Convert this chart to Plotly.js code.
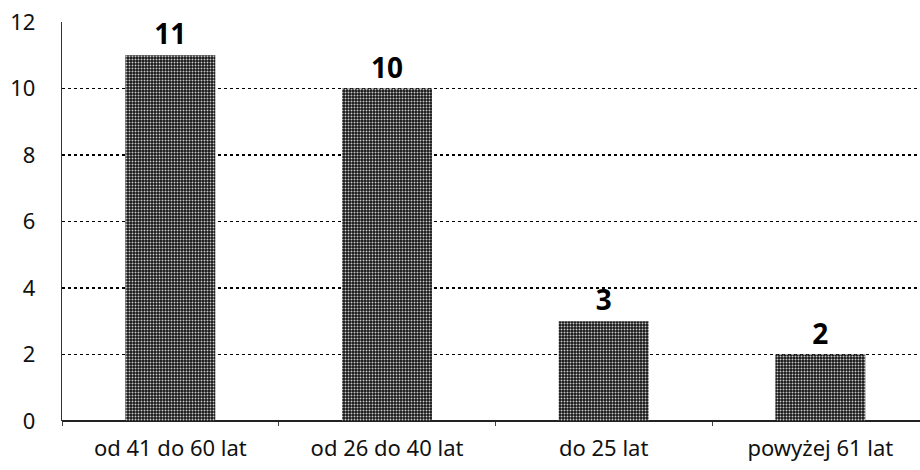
<!DOCTYPE html>
<html><head><meta charset="utf-8">
<script src="https://cdn.plot.ly/plotly-3.0.1.min.js"></script>
<style>html,body{margin:0;padding:0;background:#fff;overflow:hidden}</style>
</head><body>
<div id="chart" style="width:920px;height:470px"></div>
<script>
const categories = ["od 41 do 60 lat", "od 26 do 40 lat", "do 25 lat", "powyżej 61 lat"];
const values = [11, 10, 3, 2];
const yTicks = [0, 2, 4, 6, 8, 10, 12];

const trace = {
  type: 'bar',
  x: categories,
  y: values,
  text: values.map(String),
  textposition: 'outside',
  cliponaxis: false,
  textfont: {family: 'Noto Sans, DejaVu Sans, sans-serif', size: 28, color: '#000', weight: 'bold'},
  marker: {
    color: '#333',
    line: {width: 0},
    pattern: {shape: '.', size: 3, solidity: 0.35, fgcolor: '#c8c8c8', bgcolor: '#141414', fillmode: 'replace'}
  },
  hoverinfo: 'none'
};

const layout = {
  width: 920, height: 470,
  margin: {l: 62, r: 0, t: 22, b: 49},
  paper_bgcolor: '#fff', plot_bgcolor: '#fff',
  bargap: 0.585,
  showlegend: false,
  font: {family: 'Noto Sans, DejaVu Sans, sans-serif', color: '#111'},
  xaxis: {
    type: 'category',
    range: [-0.5, 3.46],
    showgrid: false,
    showline: false,
    zeroline: false,
    ticks: 'outside', ticklen: 4, tickcolor: '#444',
    tickson: 'boundaries',
    tickfont: {size: 22, color: '#111'},
    ticklabelstandoff: 12
  },
  yaxis: {
    range: [0, 12],
    tickvals: yTicks,
    showgrid: true,
    gridcolor: '#000', griddash: 'dot', gridwidth: 1.6,
    zeroline: true, zerolinecolor: '#222', zerolinewidth: 1.5,
    showline: true, linecolor: '#333', linewidth: 1.2,
    ticks: '',
    tickfont: {size: 22, color: '#111'},
    ticklabelstandoff: 21
  }
};

Plotly.newPlot('chart', [trace], layout, {displayModeBar: false, staticPlot: true});
</script>
</body></html>
